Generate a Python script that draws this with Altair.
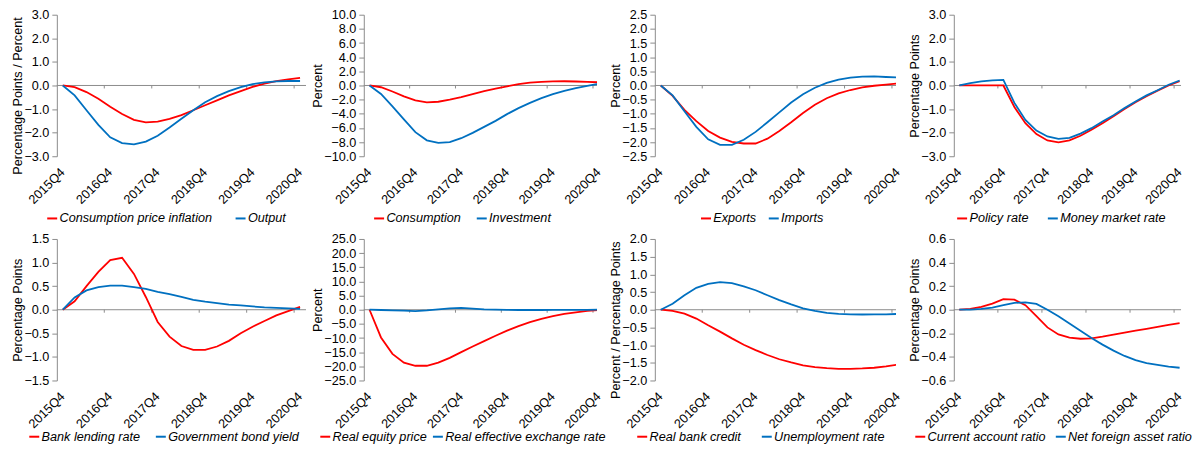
import altair as alt
import pandas as pd

QUARTERS = ["2015Q4", "2016Q1", "2016Q2", "2016Q3", "2016Q4", "2017Q1", "2017Q2",
            "2017Q3", "2017Q4", "2018Q1", "2018Q2", "2018Q3", "2018Q4", "2019Q1",
            "2019Q2", "2019Q3", "2019Q4", "2020Q1", "2020Q2", "2020Q3", "2020Q4"]
LABEL_IDX = [0, 4, 8, 12, 16, 20]
TICK_BOUNDS = [3.5, 7.5, 11.5, 15.5, 19.5]

cpi_inflation = [0, -0.07, -0.28, -0.56, -0.90, -1.21, -1.46, -1.56, -1.53, -1.42, -1.26,
                 -1.05, -0.84, -0.63, -0.42, -0.24, -0.06, 0.08, 0.18, 0.26, 0.32]
output = [0, -0.42, -1.05, -1.67, -2.20, -2.44, -2.50, -2.38, -2.13, -1.78, -1.41,
          -1.05, -0.71, -0.45, -0.24, -0.07, 0.06, 0.13, 0.17, 0.19, 0.19]
consumption = [0, -0.25, -0.85, -1.55, -2.10, -2.40, -2.30, -2.00, -1.65, -1.22, -0.80,
               -0.45, -0.12, 0.20, 0.40, 0.52, 0.58, 0.60, 0.56, 0.50, 0.45]
investment = [0, -1.2, -2.95, -4.8, -6.6, -7.75, -8.1, -8.0, -7.45, -6.7, -5.85,
              -5.0, -4.05, -3.2, -2.45, -1.8, -1.22, -0.75, -0.38, -0.05, 0.25]
exports = [0, -0.37, -0.86, -1.26, -1.61, -1.84, -1.99, -2.05, -2.05, -1.88, -1.61,
           -1.30, -0.97, -0.68, -0.45, -0.28, -0.16, -0.07, -0.01, 0.03, 0.07]
imports = [0, -0.35, -0.91, -1.46, -1.90, -2.10, -2.10, -1.92, -1.64, -1.30, -0.95,
           -0.60, -0.31, -0.08, 0.09, 0.21, 0.28, 0.31, 0.32, 0.30, 0.28]
policy_rate = [0, 0, 0, 0, 0, -0.91, -1.60, -2.06, -2.33, -2.41, -2.33,
               -2.13, -1.88, -1.60, -1.30, -1.00, -0.71, -0.46, -0.22, 0.00, 0.18]
money_market = [0, 0.10, 0.17, 0.22, 0.24, -0.74, -1.46, -1.91, -2.16, -2.26, -2.22,
                -2.04, -1.81, -1.53, -1.26, -0.96, -0.68, -0.42, -0.20, 0.03, 0.21]
bank_lending = [0, 0.18, 0.50, 0.80, 1.05, 1.10, 0.76, 0.27, -0.26, -0.57, -0.77,
                -0.85, -0.85, -0.78, -0.66, -0.50, -0.36, -0.24, -0.12, -0.03, 0.06]
gov_bond = [0, 0.26, 0.41, 0.48, 0.51, 0.51, 0.48, 0.44, 0.38, 0.33, 0.27,
            0.21, 0.17, 0.14, 0.11, 0.09, 0.07, 0.05, 0.04, 0.03, 0.02]
equity_price = [0, -9.8, -15.6, -18.7, -19.8, -19.8, -18.7, -17.0, -15.0, -13.0, -11.1,
                -9.2, -7.4, -5.8, -4.4, -3.2, -2.3, -1.5, -0.9, -0.4, -0.1]
reer = [0, -0.1, -0.2, -0.35, -0.5, -0.25, 0.1, 0.45, 0.65, 0.35, 0.1,
        0.0, -0.05, -0.1, -0.1, -0.1, -0.08, -0.05, -0.03, -0.02, 0.0]
bank_credit = [0, -0.03, -0.11, -0.25, -0.44, -0.62, -0.81, -0.99, -1.14, -1.28, -1.40,
               -1.49, -1.57, -1.62, -1.65, -1.67, -1.67, -1.66, -1.64, -1.60, -1.55]
unemployment = [0, 0.17, 0.41, 0.62, 0.73, 0.78, 0.75, 0.66, 0.55, 0.41, 0.27,
                0.15, 0.04, -0.03, -0.09, -0.12, -0.13, -0.135, -0.13, -0.13, -0.12]
ca_ratio = [0, 0.007, 0.024, 0.052, 0.090, 0.085, 0.038, -0.055, -0.150, -0.210, -0.237,
            -0.246, -0.243, -0.229, -0.212, -0.195, -0.178, -0.162, -0.145, -0.128, -0.114]
nfa_ratio = [0, 0.001, 0.007, 0.018, 0.038, 0.058, 0.063, 0.049, 0.0, -0.055, -0.117,
             -0.178, -0.24, -0.296, -0.347, -0.392, -0.428, -0.452, -0.468, -0.482, -0.492]

RED = "#FF0000"
BLUE = "#0070C0"
GRAY = "#8C8C8C"
FONT = "Liberation Sans"
FS = 12.7
H = 142
COL_W = [250, 234, 242, 228]
COL_XMAX = [20.5, 19.85, 19.84, 20.13]
LEGEND_Y = [H + 55.6, H + 49.6]

# (red name, red values, blue name, blue values, y title, y ticks, legend x, legend gap, title shift)
PANELS = [
    ("Consumption price inflation", cpi_inflation, "Output", output,
     "Percentage Points / Percent", [-3, -2, -1, 0, 1, 2, 3], -11, 19, 10),
    ("Consumption", consumption, "Investment", investment,
     "Percent", [-10, -8, -6, -4, -2, 0, 2, 4, 6, 8, 10], 9, 11, 0),
    ("Exports", exports, "Imports", imports,
     "Percent", [-2.5, -2, -1.5, -1, -0.5, 0, 0.5, 1, 1.5, 2, 2.5], 45, 8, 0),
    ("Policy rate", policy_rate, "Money market rate", money_market,
     "Percentage Points", [-3, -2, -1, 0, 1, 2, 3], 2, 15, 0),
    ("Bank lending rate", bank_lending, "Government bond yield", gov_bond,
     "Percentage Points", [-1.5, -1, -0.5, 0, 0.5, 1, 1.5], -29, 11, 0),
    ("Real equity price", equity_price, "Real effective exchange rate", reer,
     "Percent", [-25, -20, -15, -10, -5, 0, 5, 10, 15, 20, 25], -45, 1, 0),
    ("Real bank credit", bank_credit, "Unemployment rate", unemployment,
     "Percent / Percentage Points", [-2, -1.5, -1, -0.5, 0, 0.5, 1, 1.5, 2], -19, 16, 10),
    ("Current account ratio", ca_ratio, "Net foreign asset ratio", nfa_ratio,
     "Percentage Points", [-0.6, -0.4, -0.2, 0, 0.2, 0.4, 0.6], -40, 5, 0),
]


def make_panel(k, p):
    rname, rvals, bname, bvals, ytitle, yticks, lx, cp, tshift = p
    col = k % 4
    row = k // 4
    xs = alt.Scale(domain=[-0.5, COL_XMAX[col]], nice=False, zero=False)
    ys = alt.Scale(domain=[yticks[0], yticks[-1]], nice=False, zero=False)
    yaxis = alt.Axis(
        title=ytitle, values=yticks, format=".1f", grid=False,
        domainColor=GRAY, tickColor=GRAY, tickSize=5, labelPadding=3,
        titlePadding=-1, titleFontWeight="normal", titleY=H / 2 + tshift,
    )

    rows = []
    for name, vals in ((rname, rvals), (bname, bvals)):
        for i, v in enumerate(vals):
            rows.append({"i": i, "q": QUARTERS[i], "s": name, "v": v})
    df = pd.DataFrame(rows)

    zero = alt.Chart(pd.DataFrame({"v": [0]})).mark_rule(
        color=GRAY, strokeWidth=1
    ).encode(y=alt.Y("v:Q", scale=ys, axis=yaxis))

    ticks = alt.Chart(pd.DataFrame({"i": TICK_BOUNDS, "v": [0] * 5})).mark_rule(
        color=GRAY, strokeWidth=1, y2Offset=3
    ).encode(
        x=alt.X("i:Q", scale=xs, axis=None),
        y=alt.Y("v:Q", scale=ys, axis=yaxis),
        y2="v:Q",
    )

    lines = alt.Chart(df).mark_line(strokeWidth=1.8, clip=True).encode(
        x=alt.X("i:Q", scale=xs, axis=None),
        y=alt.Y("v:Q", scale=ys, axis=yaxis),
        color=alt.Color("s:N", scale=alt.Scale(domain=[rname, bname], range=[RED, BLUE]),
                        legend=alt.Legend(
                            orient="none", legendX=lx, legendY=LEGEND_Y[row],
                            direction="horizontal", title=None,
                            symbolType="stroke", symbolSize=100, symbolStrokeWidth=2,
                            labelFontStyle="italic", labelFontSize=FS, labelOffset=1,
                            columnPadding=cp, padding=0, gridAlign="each",
                            labelLimit=400, labelColor="black", labelFont=FONT,
                        )),
        order="i:Q",
    )

    lab = pd.DataFrame({"i": LABEL_IDX, "t": [QUARTERS[j] for j in LABEL_IDX]})
    xlabels = alt.Chart(lab).mark_text(
        angle=315, align="right", baseline="middle", fontSize=FS, font=FONT, color="black"
    ).encode(
        x=alt.X("i:Q", scale=xs, axis=None),
        y=alt.value(H + 14),
        text="t:N",
    )

    return alt.layer(zero, ticks, lines, xlabels).properties(width=COL_W[col], height=H)


charts = [make_panel(k, p) for k, p in enumerate(PANELS)]

chart = alt.concat(
    *charts, columns=4, spacing={"row": 83, "column": 58},
    bounds="flush", align="each",
    padding={"left": 3, "top": 0, "right": 0, "bottom": 0},
).resolve_scale(
    color="independent", x="independent", y="independent"
).resolve_legend(color="independent").configure(
    font=FONT
).configure_axis(
    labelFont=FONT, titleFont=FONT, labelFontSize=FS, titleFontSize=FS,
    labelColor="black", titleColor="black",
).configure_view(stroke=None)

chart.save("out.html", embed_options={"renderer": "svg", "actions": False})
